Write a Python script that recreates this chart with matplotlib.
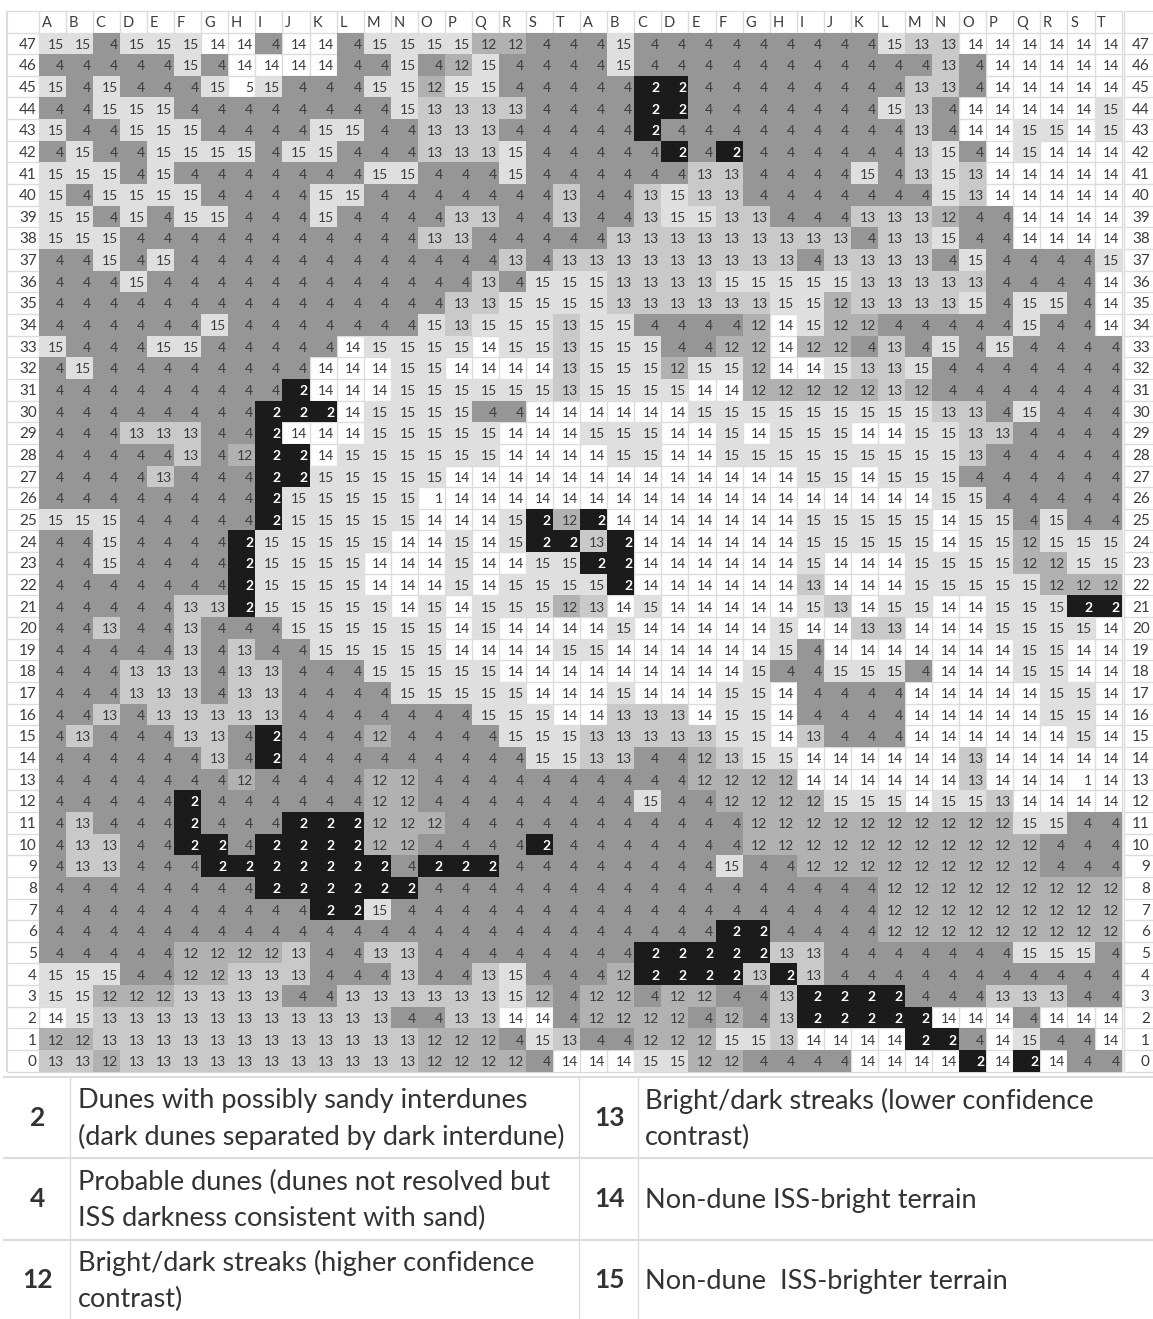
import numpy as np
import matplotlib
matplotlib.use('Agg')
import matplotlib.pyplot as plt
from matplotlib.colors import ListedColormap, BoundaryNorm

plt.rcParams['font.family'] = ['Lato', 'DejaVu Sans']

COL_LABELS = list('ABCDEFGHIJKLMNOPQRST') * 2
ROW_LABELS = list(range(47, -1, -1))

# one line per row, top row (47) first
CELLS = [
    [15,15,4,15,15,15,14,14,4,14,14,4,15,15,15,15,12,12,4,4, 4,15,4,4,4,4,4,4,4,4,4,15,13,13,14,14,14,14,14,14],
    [4,4,4,4,4,15,4,14,14,14,14,4,4,15,4,12,15,4,4,4, 4,15,4,4,4,4,4,4,4,4,4,4,4,13,4,14,14,14,14,14],
    [15,4,15,4,4,4,15,5,15,4,4,4,15,15,12,15,15,4,4,4, 4,4,2,2,4,4,4,4,4,4,4,4,13,13,4,14,14,14,14,14],
    [4,4,15,15,15,4,4,4,4,4,4,4,4,15,13,13,13,13,4,4, 4,4,2,2,4,4,4,4,4,4,4,15,13,4,14,14,14,14,14,15],
    [15,4,4,15,15,15,4,4,4,4,15,15,4,4,13,13,13,4,4,4, 4,4,2,4,4,4,4,4,4,4,4,4,13,4,14,14,15,15,14,15],
    [4,15,4,4,15,15,15,15,4,15,15,4,4,4,13,13,13,15,4,4, 4,4,4,2,4,2,4,4,4,4,4,4,13,15,4,14,15,14,14,14],
    [15,15,15,4,15,4,4,4,4,4,4,4,15,15,4,4,4,15,4,4, 4,4,4,4,13,13,4,4,4,4,15,4,13,15,13,14,14,14,14,14],
    [15,4,15,15,15,15,4,4,4,4,15,15,4,4,4,4,4,4,4,13, 4,4,13,15,13,13,4,4,4,4,4,4,4,15,13,14,14,14,14,14],
    [15,15,4,15,4,15,15,4,4,4,15,4,4,4,4,13,13,4,4,13, 4,4,13,15,15,13,13,4,4,4,13,13,13,12,4,4,14,14,14,14],
    [15,15,15,4,4,4,4,4,4,4,4,4,4,4,13,13,4,4,4,4, 4,13,13,13,13,13,13,13,13,13,4,13,13,15,4,4,14,14,14,14],
    [4,4,15,4,15,4,4,4,4,4,4,4,4,4,4,4,4,13,4,13, 13,13,13,13,13,13,13,13,4,13,13,13,13,4,15,4,4,4,4,15],
    [4,4,4,15,4,4,4,4,4,4,4,4,4,4,4,4,13,4,15,15, 15,13,13,13,13,15,15,15,15,15,13,13,13,13,13,4,4,4,4,14],
    [4,4,4,4,4,4,4,4,4,4,4,4,4,4,4,13,13,15,15,15, 15,13,13,13,13,13,13,15,15,12,13,13,13,13,15,4,15,15,4,14],
    [4,4,4,4,4,4,15,4,4,4,4,4,4,4,15,13,15,15,15,13, 15,15,4,4,4,4,12,14,15,12,12,4,4,4,4,4,15,4,4,14],
    [15,4,4,4,15,15,4,4,4,4,4,14,15,15,15,15,14,15,15,13, 15,15,15,4,4,12,12,14,12,12,4,13,4,15,4,15,4,4,4,4],
    [4,15,4,4,4,4,4,4,4,4,14,14,14,15,15,14,14,14,14,13, 15,15,15,12,15,15,12,14,14,15,13,13,15,4,4,4,4,4,4,4],
    [4,4,4,4,4,4,4,4,4,2,14,14,14,15,15,15,15,15,15,13, 15,15,15,15,14,14,12,12,12,12,12,13,12,4,4,4,4,4,4,4],
    [4,4,4,4,4,4,4,4,2,2,2,14,15,15,15,15,4,4,14,14, 14,14,14,14,15,15,15,15,15,15,15,15,15,13,13,4,15,4,4,4],
    [4,4,4,13,13,13,4,4,2,14,14,14,15,15,15,15,15,14,14,14, 15,15,15,14,14,15,14,15,15,15,14,14,15,15,13,13,4,4,4,4],
    [4,4,4,4,4,13,4,12,2,2,14,15,15,15,15,15,15,14,14,14, 14,15,15,14,14,15,15,15,15,15,15,15,15,15,13,4,4,4,4,4],
    [4,4,4,4,13,4,4,4,2,2,15,15,15,15,15,14,14,14,14,14, 14,14,14,14,14,14,14,14,15,15,14,15,15,15,4,4,4,4,4,4],
    [4,4,4,4,4,4,4,4,2,15,15,15,15,15,1,14,14,14,14,14, 14,14,14,14,14,14,14,14,14,14,14,14,14,15,15,4,4,4,4,4],
    [15,15,15,4,4,4,4,4,2,15,15,15,15,15,14,14,14,15,2,12, 2,14,14,14,14,14,14,14,15,15,15,15,15,14,15,15,4,15,4,4],
    [4,4,15,4,4,4,4,2,15,15,15,15,15,14,14,15,14,15,2,2, 13,2,14,14,14,14,14,14,15,15,15,15,15,14,15,15,12,15,15,15],
    [4,4,15,4,4,4,4,2,15,15,15,15,14,14,14,15,14,14,15,15, 2,2,14,14,14,14,14,14,15,14,14,14,15,15,15,15,12,12,15,15],
    [4,4,4,4,4,4,4,2,15,15,15,15,14,14,14,15,14,15,15,15, 15,2,14,14,14,14,14,14,13,14,14,14,15,15,15,15,15,12,12,12],
    [4,4,4,4,4,13,13,2,15,15,15,15,15,14,15,14,15,15,15,12, 13,14,15,14,14,14,14,14,15,13,14,15,15,14,14,15,15,15,2,2],
    [4,4,13,4,4,13,4,4,4,15,15,15,15,15,15,14,15,14,14,14, 14,15,14,14,14,14,14,15,14,14,13,13,14,14,14,15,15,15,15,14],
    [4,4,4,4,4,13,4,13,4,4,15,15,15,15,15,14,14,14,14,15, 15,14,14,14,14,14,14,15,4,14,14,14,14,14,14,14,15,15,14,14],
    [4,4,4,13,13,13,4,13,13,4,4,4,15,15,15,15,15,14,14,14, 14,14,14,14,14,14,15,4,4,15,15,15,4,14,14,14,15,15,14,14],
    [4,4,4,13,13,13,4,13,13,4,4,4,4,15,15,15,15,15,14,14, 14,15,14,14,14,15,15,14,4,4,4,4,14,14,14,14,14,15,15,14],
    [4,4,13,4,13,13,13,13,13,4,4,4,4,4,4,4,15,15,15,14, 14,13,13,13,14,15,15,14,4,4,4,4,14,14,14,14,14,15,15,14],
    [4,13,4,4,4,13,13,4,2,4,4,4,12,4,4,4,4,15,15,15, 13,13,13,13,13,15,15,14,13,4,4,4,14,14,14,14,14,14,15,14],
    [4,4,4,4,4,4,13,4,2,4,4,4,4,4,4,4,4,4,15,15, 13,13,4,4,12,13,15,15,14,14,14,14,14,14,13,14,14,14,14,14],
    [4,4,4,4,4,4,4,12,4,4,4,4,12,12,4,4,4,4,4,4, 4,4,4,4,12,12,12,12,14,14,14,14,14,14,13,14,14,14,1,14],
    [4,4,4,4,4,2,4,4,4,4,4,4,12,12,4,4,4,4,4,4, 4,4,15,4,4,12,12,12,12,15,15,15,14,15,15,13,14,14,14,14],
    [4,13,4,4,4,2,4,4,4,2,2,2,12,12,12,4,4,4,4,4, 4,4,4,4,4,4,12,12,12,12,12,12,12,12,12,12,15,15,4,4],
    [4,13,13,4,4,2,2,4,2,2,2,2,12,12,4,4,4,4,2,4, 4,4,4,4,4,4,12,12,12,12,12,12,12,12,12,12,12,4,4,4],
    [4,13,13,4,4,4,2,2,2,2,2,2,2,4,2,2,2,4,4,4, 4,4,4,4,4,15,4,4,12,12,12,12,12,12,12,12,12,4,4,4],
    [4,4,4,4,4,4,4,4,2,2,2,2,2,2,4,4,4,4,4,4, 4,4,4,4,4,4,4,4,4,4,4,12,12,12,12,12,12,12,12,12],
    [4,4,4,4,4,4,4,4,4,4,2,2,15,4,4,4,4,4,4,4, 4,4,4,4,4,4,4,4,4,4,4,12,12,12,12,12,12,12,12,12],
    [4,4,4,4,4,4,4,4,4,4,4,4,4,4,4,4,4,4,4,4, 4,4,4,4,4,2,2,4,4,4,4,12,12,12,12,12,12,12,12,12],
    [4,4,4,4,4,12,12,12,12,13,4,4,13,13,4,4,4,4,4,4, 4,4,2,2,2,2,2,13,13,4,4,4,4,4,4,4,15,15,15,4],
    [15,15,15,4,4,12,12,13,13,13,4,4,4,13,4,4,13,15,4,4, 4,12,2,2,2,2,13,2,13,4,4,4,4,4,4,4,4,4,4,4],
    [15,15,12,12,12,13,13,13,13,4,4,13,13,13,13,13,13,15,12,4, 12,12,4,12,12,4,4,13,2,2,2,2,4,4,4,13,13,13,4,4],
    [14,15,13,13,13,13,13,13,13,13,13,13,13,4,4,13,13,14,14,4, 12,12,12,12,4,12,4,13,2,2,2,2,2,14,14,14,4,14,14,14],
    [12,12,13,13,13,13,13,13,13,13,13,13,13,13,12,12,12,4,15,13, 4,4,12,12,12,15,15,13,14,14,14,14,2,2,4,14,15,4,4,14],
    [13,13,12,13,13,13,13,13,13,13,13,13,13,13,12,12,12,12,4,14, 14,14,15,15,12,12,4,4,4,4,14,14,14,14,2,14,2,14,4,4],
]

CODES = [1, 2, 4, 5, 12, 13, 14, 15]
SHADES = ['#ffffff', '#1b1b1b', '#969696', '#ffffff', '#b1b1b1', '#c9c9c9', '#ffffff', '#dfdfdf']

LEGEND_LEFT = [('2', 'Dunes with possibly sandy interdunes\n(dark dunes separated by dark interdune)'),
               ('4', 'Probable dunes (dunes not resolved but\nISS darkness consistent with sand)'),
               ('12', 'Bright/dark streaks (higher confidence\ncontrast)')]
LEGEND_RIGHT = [('13', 'Bright/dark streaks (lower confidence\ncontrast)'),
                ('14', 'Non-dune ISS-bright terrain'),
                ('15', 'Non-dune  ISS-brighter terrain')]

W, H = 1153, 1319
CW, CH = 27.07, 21.65      # cell size in pixels
X0, Y0 = 38.8, 1071.7      # bottom left corner of the grid in pixels
GRID = '#dcdcdc'
INK = '#3c3c3c'

fig = plt.figure(figsize=(W / 100, H / 100), dpi=100)
ax = fig.add_axes([0, 0, 1, 1])
ax.set_xlim(-X0 / CW, (W - X0) / CW)
ax.set_ylim((Y0 - H) / CH, Y0 / CH)
ax.axis('off')

#### the cells
cells = np.array(CELLS)[::-1]
n_rows, n_cols = cells.shape
cmap = ListedColormap(SHADES)
norm = BoundaryNorm(np.array(CODES + [16]) - 0.5, cmap.N)
white = np.isin(cells, [1, 5, 14])
ax.pcolormesh(np.arange(n_cols + 1), np.arange(n_rows + 1), np.ma.masked_where(white, cells),
              cmap=cmap, norm=norm, zorder=2)

# grid lines sit under the mesh so they only show in the white cells
ax.vlines(np.arange(n_cols + 1), 0, n_rows + 1, color=GRID, lw=1, zorder=1)
ax.hlines(np.arange(n_rows + 2), 0, n_cols, color=GRID, lw=1, zorder=1)

for r in range(n_rows):
    for c in range(n_cols):
        v = cells[r, c]
        ax.text(c + 0.92, r + 0.44, str(v), ha='right', va='center', fontsize=10, zorder=3,
                color='white' if v == 2 else INK, fontweight='bold' if v == 2 else 'normal')

#### header and row labels
left_edge = -(X0 - 7.4) / CW
right_a = (1124 - X0) / CW
ax.hlines(np.arange(n_rows + 2), left_edge, 0, color=GRID, lw=1, zorder=1)
ax.hlines(np.arange(n_rows + 2), right_a, (W - X0) / CW, color=GRID, lw=1, zorder=1)
ax.vlines([left_edge], 0, n_rows + 1, color=GRID, lw=1.5, zorder=1)
ax.vlines([right_a], 0, n_rows + 1, color=GRID, lw=1, zorder=1)

for c, label in enumerate(COL_LABELS):
    ax.text(c + 0.1, n_rows + 0.45, label, ha='left', va='center', fontsize=10.5, color=INK)
for r, label in enumerate(ROW_LABELS[::-1]):
    ax.text(-0.08, r + 0.44, str(label), ha='right', va='center', fontsize=11, color=INK)
    ax.text(right_a + 0.95, r + 0.44, str(label), ha='right', va='center', fontsize=11, color=INK)

#### legend table, in pixels
leg = fig.add_axes([0, 0, 1, 1])
leg.set_xlim(0, W)
leg.set_ylim(H, 0)
leg.axis('off')
leg.patch.set_alpha(0)

row_edges = [1077, 1158, 1240, 1319]
for y in row_edges[:-1]:
    leg.plot([4, W], [y, y], color=GRID, lw=1.5)
for x in [70, 579, 638]:
    leg.plot([x, x], [1077, H], color=GRID, lw=1)

for side, (num_x, txt_x) in zip([LEGEND_LEFT, LEGEND_RIGHT], [(38, 78), (609, 645)]):
    for i, (code, label) in enumerate(side):
        mid = (row_edges[i] + row_edges[i + 1]) / 2
        leg.text(num_x, mid, code, ha='center', va='center', fontsize=19, fontweight='bold', color='#333333')
        leg.text(txt_x, mid + 1.5, label, ha='left', va='center', fontsize=19.5, color='#333333', linespacing=1.5)

fig.savefig('out.png', dpi=100)
